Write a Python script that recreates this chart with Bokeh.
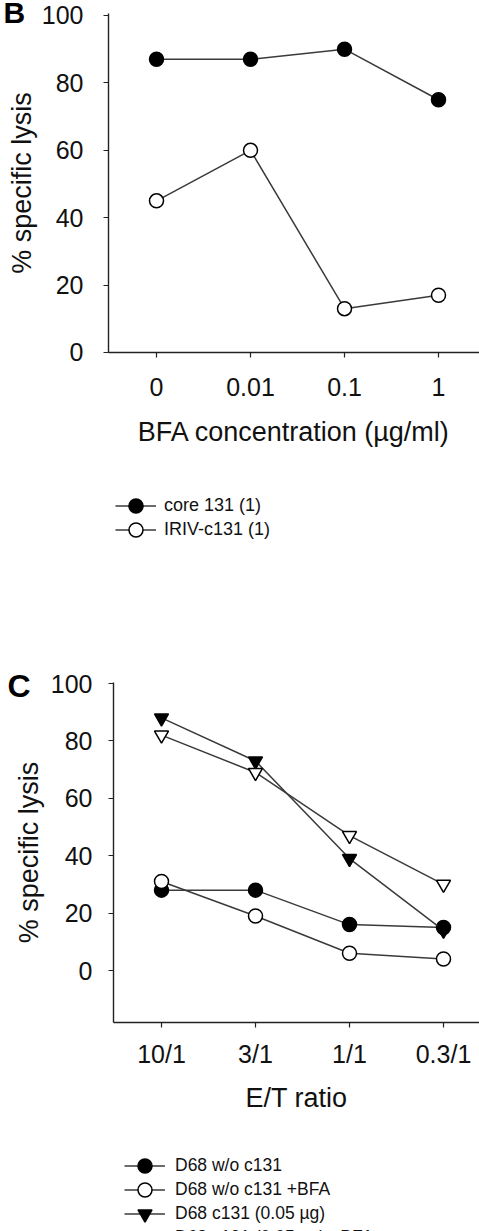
from bokeh.plotting import figure
from bokeh.models import Range1d, Legend, LegendItem, FixedTicker, Label
from bokeh.layouts import column
from bokeh.embed import file_html
from bokeh.resources import INLINE

FONT = "Liberation Sans"

# Panel B: lysis vs BFA concentration
bfa_conc = ["0", "0.01", "0.1", "1"]
core131 = [87, 87, 90, 75]
iriv_c131 = [45, 60, 13, 17]

# Panel C: lysis vs effector/target ratio
et_ratio = ["10/1", "3/1", "1/1", "0.3/1"]
d68_wo = [28, 28, 16, 15]
d68_wo_bfa = [31, 19, 6, 4]
d68_c131 = [88, 73, 39, 14]
d68_c131_bfa = [82, 69, 47, 30]

y_ticks = [0, 20, 40, 60, 80, 100]
y_title = "% specific lysis"

LINE = "#3a3a3a"
AX = "#222222"
TXT = "#111111"


def make_panel(height, cats, xlabel, x_range, y_range, x_bounds, y_bounds):
    # The frame fills the whole canvas; axes are pinned inside it so that
    # letters and legends below/left of the axes are drawn unclipped.
    p = figure(width=479, height=height, output_backend="svg", toolbar_location=None,
               x_range=Range1d(*x_range), y_range=Range1d(*y_range), min_border=0)
    p.grid.visible = False
    p.outline_line_color = None
    p.xaxis.fixed_location = y_bounds[0]
    p.yaxis.fixed_location = x_bounds[0]
    p.xaxis.bounds = x_bounds
    p.yaxis.bounds = y_bounds
    p.xaxis.ticker = FixedTicker(ticks=list(range(len(cats))))
    p.xaxis.major_label_overrides = {i: c for i, c in enumerate(cats)}
    p.yaxis.ticker = FixedTicker(ticks=y_ticks)
    p.xaxis.axis_label = xlabel
    p.yaxis.axis_label = y_title
    for ax in (p.xaxis, p.yaxis):
        ax.axis_line_color = AX
        ax.axis_line_width = 1.4
        ax.major_tick_line_color = AX
        ax.major_tick_line_width = 1.2
        ax.major_tick_in = 0
        ax.major_tick_out = 5
        ax.minor_tick_line_color = None
        ax.major_label_text_font = FONT
        ax.major_label_text_font_size = "25px"
        ax.major_label_text_color = TXT
        ax.axis_label_text_font = FONT
        ax.axis_label_text_font_size = "27px"
        ax.axis_label_text_font_style = "normal"
        ax.axis_label_text_color = TXT
    return p


def series(p, xs, ys, marker, fill):
    ln = p.line(xs, ys, line_color=LINE, line_width=1.5)
    sc = p.scatter(xs, ys, marker=marker, size=14, fill_color=fill,
                   line_color="black", line_width=1.5)
    return [ln, sc]


def add_legend_rows(p, height, entries, x0, first_center, pitch, gw, standoff, fs):
    # one single-row legend per entry, stacked at a fixed pitch
    gh = 35
    for i, (label, rends) in enumerate(entries):
        c = first_center + i * pitch
        vy = height - (c - gh / 2) - gh
        leg = Legend(items=[LegendItem(label=label, renderers=rends)],
                     location=(x0, vy), glyph_width=gw, glyph_height=gh,
                     label_standoff=standoff, padding=0, margin=0,
                     border_line_color=None, background_fill_alpha=0,
                     label_text_font=FONT, label_text_font_size=fs,
                     label_text_color=TXT)
        p.add_layout(leg)


def add_letter(p, letter, x, y, size="32px"):
    p.add_layout(Label(x=x, y=y, x_units="screen", y_units="screen", text=letter,
                       text_font=FONT, text_font_style="bold", text_font_size=size,
                       text_color="black", text_align="left",
                       text_baseline="alphabetic"))


# ---- Panel B ----
HB = 600
xb = list(range(len(bfa_conc)))
pb = make_panel(HB, bfa_conc, "BFA concentration (µg/ml)",
                x_range=(-1.6596, 3.436), y_range=(-73.59, 104.45),
                x_bounds=(-0.5106, 3.436), y_bounds=(0, 100.6))
pb.yaxis.major_label_standoff = 20
pb.yaxis.axis_label_standoff = 2
pb.xaxis.major_label_standoff = 21
pb.xaxis.axis_label_standoff = 17

rb1 = series(pb, xb, core131, "circle", "black")
rb2 = series(pb, xb, iriv_c131, "circle", "white")
add_legend_rows(pb, HB, [("core 131 (1)", rb1), ("IRIV-c131 (1)", rb2)],
                x0=115, first_center=505, pitch=24, gw=41, standoff=8, fs="18px")
add_letter(pb, "B", 3, HB - 12, size="30px")

# ---- Panel C ----
HC = 631
xc = list(range(len(et_ratio)))
pc = make_panel(HC, et_ratio, "E/T ratio",
                x_range=(-1.7128, 3.383), y_range=(-90.94, 128.92),
                x_bounds=(-0.5106, 3.383), y_bounds=(-18.1, 100.35))
pc.yaxis.major_label_standoff = 16
pc.yaxis.axis_label_standoff = 4
pc.xaxis.major_label_standoff = 13
pc.xaxis.axis_label_standoff = 11

rc1 = series(pc, xc, d68_wo, "circle", "black")
rc2 = series(pc, xc, d68_wo_bfa, "circle", "white")
rc3 = series(pc, xc, d68_c131, "inverted_triangle", "black")
rc4 = series(pc, xc, d68_c131_bfa, "inverted_triangle", "white")
add_legend_rows(pc, HC, [("D68 w/o c131", rc1),
                         ("D68 w/o c131 +BFA", rc2),
                         ("D68 c131 (0.05 µg)", rc3),
                         ("D68 c131 (0.05 µg) +BFA", rc4)],
                x0=124, first_center=565, pitch=24, gw=41, standoff=10, fs="17.5px")
add_letter(pc, "C", 7, HC - 85)

layout = column(pb, pc)
open("out.html", "w").write(file_html(layout, INLINE))
